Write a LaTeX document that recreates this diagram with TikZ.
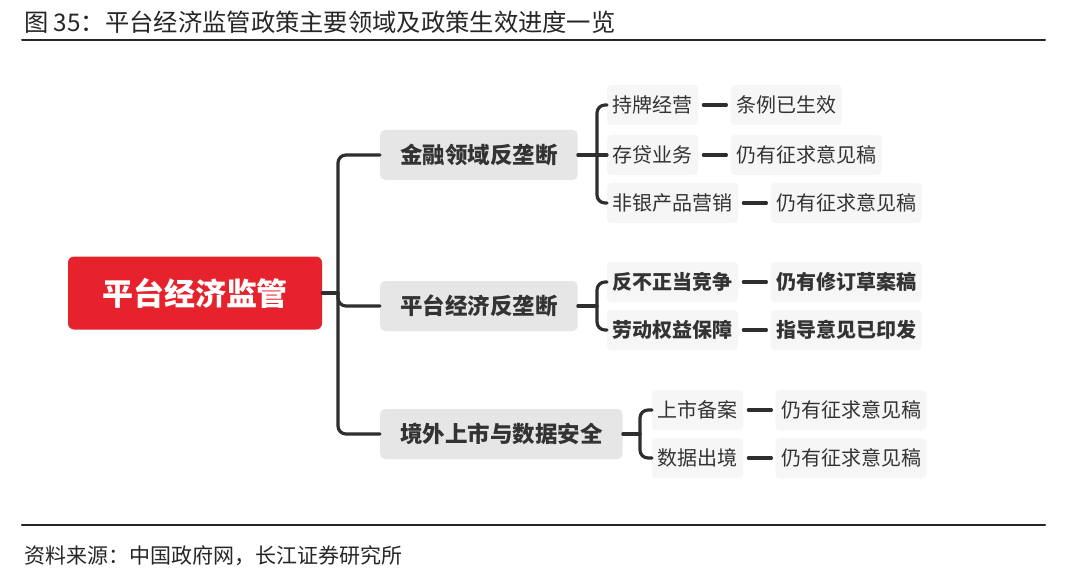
\documentclass[tikz,border=0pt]{standalone}
\usepackage{fontspec}
\setmainfont{Noto Sans CJK SC}
\usepackage{xcolor}
\usetikzlibrary{positioning,calc}
\definecolor{mapred}{HTML}{E6222C}
\definecolor{topicgray}{HTML}{E6E6E6}
\definecolor{leafgray}{HTML}{F6F6F6}
\definecolor{linkink}{HTML}{2E2E2E}
\definecolor{ink}{HTML}{333333}
\tikzset{
    every picture/.style={line cap=round,line join=round},
    rootnode/.style={fill=mapred,rounded corners=6pt,minimum width=254pt,
      minimum height=73pt,inner sep=0pt,text=white,
      font=\fontsize{31}{31}\selectfont\bfseries},
    topicnode/.style={fill=topicgray,rounded corners=5pt,minimum height=50pt,
      inner xsep=20pt,inner ysep=0pt,text=ink,
      font=\fontsize{22.5}{22.5}\selectfont\bfseries},
    leafnode/.style={fill=leafgray,rounded corners=4pt,minimum height=40pt,
      inner xsep=5.5pt,inner ysep=0pt,text=ink,
      font=\fontsize{20}{20}\selectfont},
    keyleaf/.style={font=\fontsize{20}{20}\selectfont\bfseries},
    link/.style={draw=linkink,line width=3.2pt,rounded corners=8pt},
    dashlink/.style={draw=linkink,line width=3.2pt,shorten <=5pt,shorten >=4pt},
    rulebar/.style={draw=black!85,line width=2pt},
    captext/.style={anchor=west,text=black!85,inner sep=0pt}
}

\begin{document}
\begin{tikzpicture}[x=1pt,y=-1pt]
  \useasboundingbox[fill=white] (0,0) rectangle (1080,583);
  % title and source
  \node[captext,font=\fontsize{24.3}{24.3}\selectfont] (title) at (24,22) {图\ 35：平台经济监管政策主要领域及政策生效进度一览};
  \coordinate (topl) at (22,40); \coordinate (topr) at (1045,40);
  \draw[rulebar] (topl) -- (topr);
  \coordinate (botl) at (22,525); \coordinate (botr) at (1045,525);
  \draw[rulebar,line width=2.4pt] (botl) -- (botr);
  \node[captext,font=\fontsize{21}{21}\selectfont] (src) at (24,556) {资料来源：中国政府网，长江证券研究所};

  % root and topics
  \node[rootnode] (reg) at (195,293) {平台经济监管};
  \node[topicnode,anchor=west] (fin) at (380,155) {金融领域反垄断};
  \node[topicnode,anchor=west] (plat) at (380,306) {平台经济反垄断};
  \node[topicnode,anchor=west] (ovs) at (380,434) {境外上市与数据安全};
  \coordinate (trunk) at (338,293);
  \draw[link] (reg.east) -- (trunk);
  \draw[link] (trunk) |- (fin.west);
  \draw[link] (trunk) |- (plat.west);
  \draw[link] (trunk) |- (ovs.west);

  % financial branch
  \node[leafnode,anchor=west] (fin1) at (607,105) {持牌经营};
  \node[leafnode,anchor=west] (fin2) at (607,155) {存贷业务};
  \node[leafnode,anchor=west] (fin3) at (607,203) {非银产品营销};
  \node[leafnode,right=32pt of fin1] (fin1s) {条例已生效};
  \node[leafnode,right=32pt of fin2] (fin2s) {仍有征求意见稿};
  \node[leafnode,right=32pt of fin3] (fin3s) {仍有征求意见稿};
  \coordinate (bfin) at (597,155);
  \draw[link] (fin.east) -- (bfin);
  \draw[link] (bfin) |- (fin1.west);
  \draw[link] (bfin) -- (fin2.west);
  \draw[link] (bfin) |- (fin3.west);
  \draw[dashlink] (fin1) -- (fin1s);
  \draw[dashlink] (fin2) -- (fin2s);
  \draw[dashlink] (fin3) -- (fin3s);

  % platform branch
  \node[leafnode,keyleaf,anchor=west] (plat1) at (607,282) {反不正当竞争};
  \node[leafnode,keyleaf,anchor=west] (plat2) at (607,330) {劳动权益保障};
  \node[leafnode,keyleaf,right=32pt of plat1] (plat1s) {仍有修订草案稿};
  \node[leafnode,keyleaf,right=32pt of plat2] (plat2s) {指导意见已印发};
  \coordinate (bplat) at (597,306);
  \draw[link] (plat.east) -- (bplat);
  \draw[link] (bplat) |- (plat1.west);
  \draw[link] (bplat) |- (plat2.west);
  \draw[dashlink] (plat1) -- (plat1s);
  \draw[dashlink] (plat2) -- (plat2s);

  % overseas listing branch
  \node[leafnode,anchor=west] (ovs1) at (652,410) {上市备案};
  \node[leafnode,anchor=west] (ovs2) at (652,458) {数据出境};
  \node[leafnode,right=32pt of ovs1] (ovs1s) {仍有征求意见稿};
  \node[leafnode,right=32pt of ovs2] (ovs2s) {仍有征求意见稿};
  \coordinate (bovs) at (640,434);
  \draw[link] (ovs.east) -- (bovs);
  \draw[link] (bovs) |- (ovs1.west);
  \draw[link] (bovs) |- (ovs2.west);
  \draw[dashlink] (ovs1) -- (ovs1s);
  \draw[dashlink] (ovs2) -- (ovs2s);
\end{tikzpicture}
\end{document}
